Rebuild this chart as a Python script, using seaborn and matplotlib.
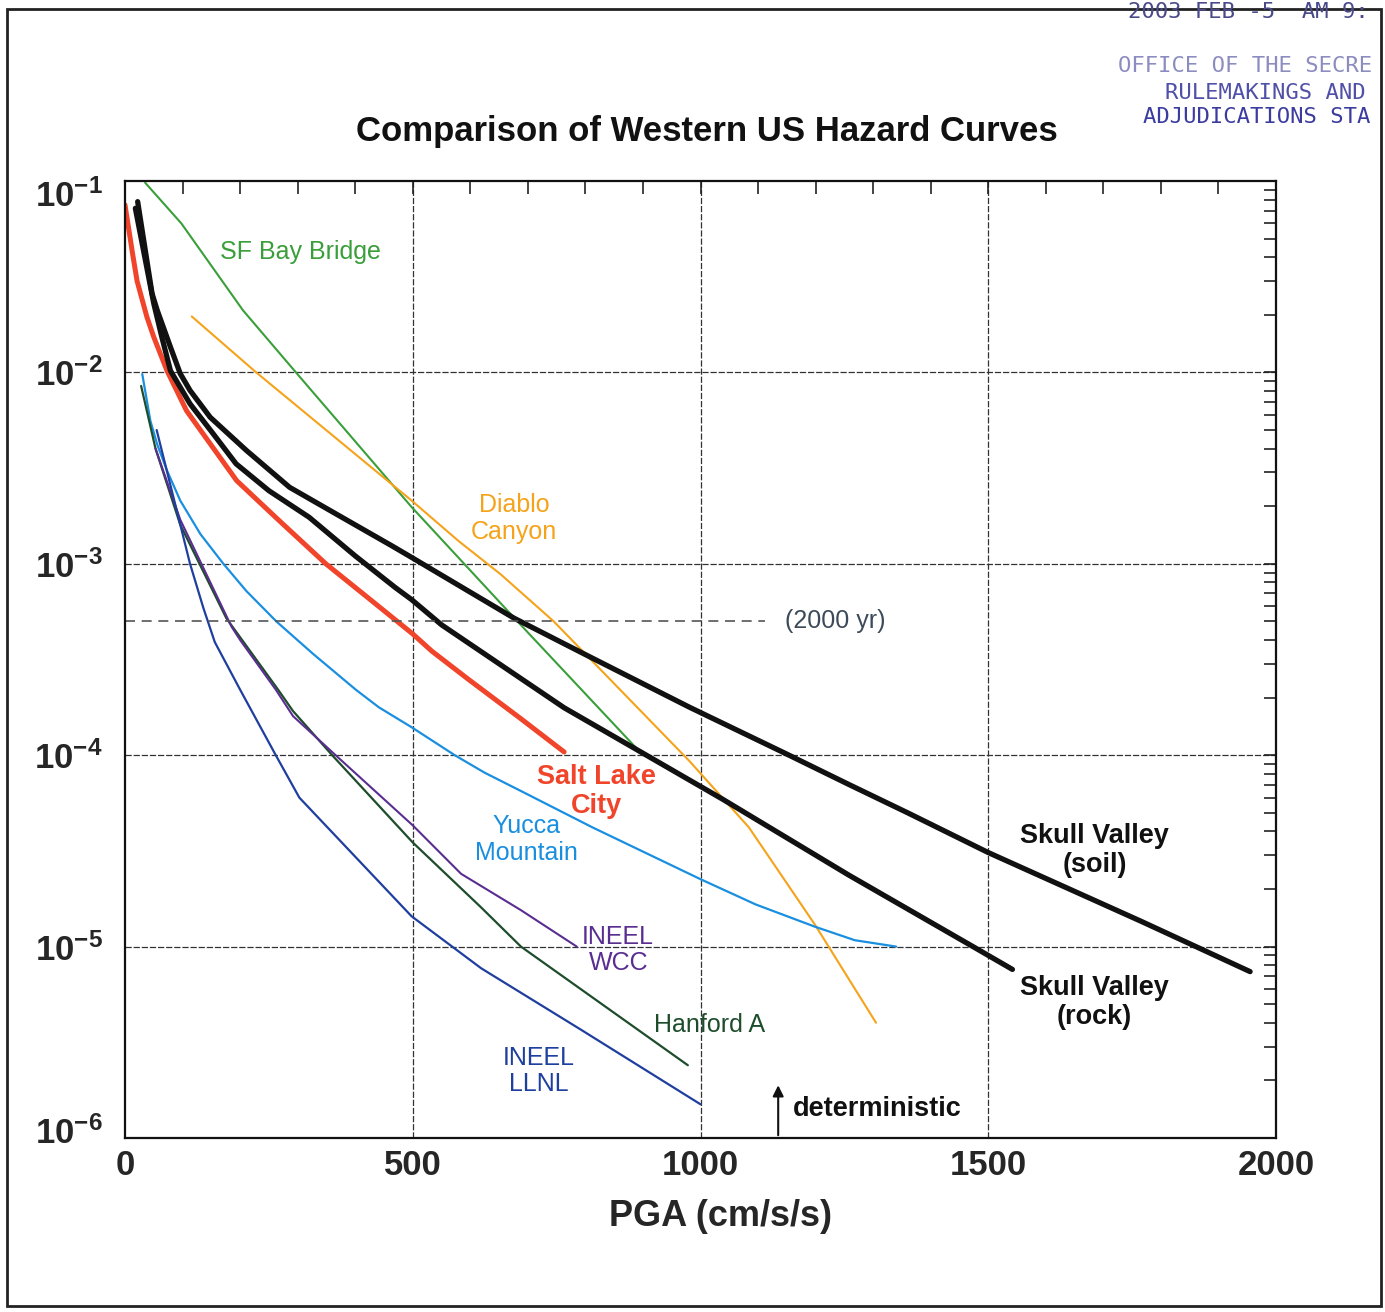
import numpy as np
import pandas as pd
import matplotlib
matplotlib.use("Agg")
import matplotlib.pyplot as plt
import seaborn as sns
from matplotlib.patches import Rectangle
from matplotlib.transforms import ScaledTranslation
from matplotlib.ticker import FixedLocator, LogLocator, NullFormatter

# hazard curves (PGA in cm/s/s, annual exceedance)
sf_x = [35, 98, 205, 297, 498, 682, 900]
sf_y = [0.098, 0.060, 0.0211, 0.0100, 1.98e-3, 5.0e-4, 1.0e-4]

diablo_x = [116, 228, 498, 579, 653, 745, 981, 1084, 1199, 1305]
diablo_y = [0.0196, 0.0100, 2.14e-3, 1.32e-3, 8.8e-4, 5.0e-4, 9.3e-5, 4.2e-5, 1.3e-5, 4.0e-6]

slc_x = [0, 13, 21, 38, 50, 73, 107, 194, 268, 349, 429, 500, 533, 596, 688, 763]
slc_y = [0.075, 0.042, 0.030, 0.0195, 0.0153, 0.0102, 6.3e-3, 2.72e-3, 1.68e-3, 1.0e-3,
         6.4e-4, 4.3e-4, 3.5e-4, 2.5e-4, 1.55e-4, 1.04e-4]

soil_x = [22, 47, 56, 79, 96, 113, 148, 211, 286, 367, 464, 498, 676, 809, 981,
          1148, 1257, 1360, 1500, 1767, 1955]
soil_y = [0.078, 0.0258, 0.0211, 0.01355, 9.85e-3, 8.05e-3, 5.83e-3, 3.91e-3, 2.51e-3,
          1.82e-3, 1.24e-3, 1.08e-3, 5.2e-4, 3.25e-4, 1.78e-4, 1.02e-4, 7.05e-5, 5.0e-5,
          3.1e-5, 1.35e-5, 7.4e-6]

rock_x = [18, 50, 64, 79, 113, 153, 193, 250, 320, 400, 470, 498, 550, 763, 906,
          1038, 1257, 1476, 1542]
rock_y = [0.072, 0.0229, 0.0153, 0.0102, 6.85e-3, 4.79e-3, 3.33e-3, 2.41e-3, 1.75e-3,
          1.1e-3, 7.5e-4, 6.5e-4, 4.8e-4, 1.77e-4, 1.0e-4, 5.9e-5, 2.37e-5, 9.9e-6, 7.6e-6]

yucca_x = [30, 44, 56, 73, 96, 131, 171, 211, 263, 326, 401, 441, 498, 573, 625,
           688, 812, 1000, 1096, 1199, 1268, 1340]
yucca_y = [9.8e-3, 5.6e-3, 4.2e-3, 3.07e-3, 2.14e-3, 1.43e-3, 1.0e-3, 7.2e-4, 5.0e-4,
           3.4e-4, 2.2e-4, 1.78e-4, 1.4e-4, 1.0e-4, 8.1e-5, 6.5e-5, 4.2e-5, 2.25e-5,
           1.66e-5, 1.27e-5, 1.08e-5, 1.0e-5]

wcc_x = [53, 96, 185, 200, 262, 292, 366, 500, 584, 688, 785]
wcc_y = [4.0e-3, 1.7e-3, 4.7e-4, 4.0e-4, 2.2e-4, 1.6e-4, 1.0e-4, 4.3e-5, 2.4e-5, 1.55e-5, 1.0e-5]

hanford_x = [28, 53, 96, 176, 266, 292, 360, 500, 619, 688, 978]
hanford_y = [8.5e-3, 4.0e-3, 1.6e-3, 5.2e-4, 2.2e-4, 1.7e-4, 1.0e-4, 3.5e-5, 1.6e-5, 1.0e-5, 2.4e-6]

llnl_x = [55, 113, 136, 156, 200, 262, 303, 498, 619, 791, 1000]
llnl_y = [5.0e-3, 1.0e-3, 5.9e-4, 3.9e-4, 2.2e-4, 1.0e-4, 6.0e-5, 1.44e-5, 7.7e-6, 3.7e-6, 1.5e-6]

# 2000 yr return period line and the deterministic marker
rp_x = [0, 1112]
rp_y = [5.0e-4, 5.0e-4]
det_pga = 1135

x_ticks = [0, 500, 1000, 1500, 2000]
y_ticks = [1e-6, 1e-5, 1e-4, 1e-3, 1e-2, 1e-1]
y_tick_labels = [r"$\mathbf{10^{-6}}$", r"$\mathbf{10^{-5}}$", r"$\mathbf{10^{-4}}$",
                 r"$\mathbf{10^{-3}}$", r"$\mathbf{10^{-2}}$", r"$\mathbf{10^{-1}}$"]

sns.set_style("white")
plt.rcParams["font.family"] = ["Liberation Sans", "DejaVu Sans"]
plt.rcParams["mathtext.fontset"] = "custom"
plt.rcParams["mathtext.rm"] = "Liberation Sans"
plt.rcParams["mathtext.bf"] = "Liberation Sans:bold"

fig = plt.figure(figsize=(13.85, 13.12), dpi=100)
ax = fig.add_axes([125 / 1385, 1 - 1138 / 1312, 1151 / 1385, 957 / 1312])

curves = [
    (sf_x, sf_y, "#3a9e3a", 1.5),
    (diablo_x, diablo_y, "#f5a31a", 1.5),
    (yucca_x, yucca_y, "#1a8fe0", 1.6),
    (hanford_x, hanford_y, "#1e4d2b", 1.6),
    (wcc_x, wcc_y, "#5a2d91", 1.5),
    (llnl_x, llnl_y, "#1f3f9f", 1.6),
    (slc_x, slc_y, "#f0452a", 3.6),
    (rock_x, rock_y, "#111111", 3.8),
    (soil_x, soil_y, "#111111", 3.8),
]
for xs, ys, col, lw in curves:
    df = pd.DataFrame({"pga": xs, "p": ys})
    sns.lineplot(data=df, x="pga", y="p", ax=ax, color=col, lw=lw, sort=True,
                 solid_joinstyle="round")

sns.lineplot(x=rp_x, y=rp_y, ax=ax, color="#555555", lw=1.2, linestyle=(0, (6, 4)))

ax.set_yscale("log")
ax.set_xlim(0, 2000)
ax.set_ylim(1e-6, 1e-1)

# grid lines only at the major values
for xv in x_ticks[1:-1]:
    ax.axvline(xv, color="#333333", lw=0.9, linestyle=(0, (5, 1.5)), zorder=0)
for yv in y_ticks[1:-1]:
    ax.axhline(yv, color="#333333", lw=0.9, linestyle=(0, (5, 1.5)), zorder=0)

ax.xaxis.set_major_locator(FixedLocator(x_ticks))
ax.xaxis.set_minor_locator(FixedLocator(np.arange(0, 2001, 100)))
ax.set_xticklabels([str(v) for v in x_ticks], fontsize=25, fontweight="bold")
ax.yaxis.set_major_locator(FixedLocator(y_ticks))
ax.yaxis.set_minor_locator(LogLocator(base=10, subs=np.arange(2, 10)))
ax.yaxis.set_minor_formatter(NullFormatter())
ax.set_yticklabels(y_tick_labels, fontsize=25)
ax.tick_params(which="both", direction="in", top=True, right=True, length=9, width=1.2, color="#222222")
ax.tick_params(axis="x", which="major", pad=8)
ax.tick_params(axis="y", which="major", pad=16)
for s in ax.spines.values():
    s.set_linewidth(1.6)
    s.set_color("#111111")

# end labels sit inside the axis range like on the original
ylabs = ax.get_yticklabels()
ylabs[-1].set_transform(ylabs[-1].get_transform() + ScaledTranslation(0, -12 / 100, fig.dpi_scale_trans))
ylabs[0].set_transform(ylabs[0].get_transform() + ScaledTranslation(0, 8 / 100, fig.dpi_scale_trans))

ax.set_xlabel("PGA (cm/s/s)", fontsize=26, fontweight="bold")
ax.xaxis.set_label_coords(0.517, -0.064)
ax.set_ylabel("")

# curve labels
lab = dict(ha="center", va="center", linespacing=1.15)
ax.text(304, 0.0425, "SF Bay Bridge", color="#3a9e3a", fontsize=18, **lab)
ax.text(676, 1.72e-3, "Diablo\nCanyon", color="#f5a31a", fontsize=18, **lab)
ax.text(1234, 5.0e-4, "(2000 yr)", color="#3c4a5a", fontsize=18, **lab)
ax.text(820, 6.5e-5, "Salt Lake\nCity", color="#f0452a", fontsize=19.5, fontweight="bold", **lab)
ax.text(697, 3.63e-5, "Yucca\nMountain", color="#1a8fe0", fontsize=18, **lab)
ax.text(857, 9.6e-6, "INEEL\nWCC", color="#5a2d91", fontsize=18, **lab)
ax.text(1015, 3.9e-6, "Hanford A", color="#1e4d2b", fontsize=18, **lab)
ax.text(719, 2.24e-6, "INEEL\nLLNL", color="#1f3f9f", fontsize=18, **lab)
ax.text(1685, 3.18e-5, "Skull Valley\n(soil)", color="#111111", fontsize=19.5, fontweight="bold", **lab)
ax.text(1684, 5.1e-6, "Skull Valley\n(rock)", color="#111111", fontsize=19.5, fontweight="bold", **lab)
ax.text(det_pga + 25, 1.42e-6, "deterministic", color="#111111", fontsize=19.5,
        fontweight="bold", ha="left", va="center")
ax.annotate("", xy=(det_pga, 1.95e-6), xytext=(det_pga, 1.0e-6),
            arrowprops=dict(arrowstyle="-|>", color="#111111", lw=1.5, mutation_scale=16))

fig.text(707 / 1385, 1 - 132 / 1312, "Comparison of Western US Hazard Curves",
         ha="center", va="center", fontsize=25, fontweight="bold", color="#111111")

# page frame and receipt stamp of the scanned document
fig.patches.append(Rectangle((7 / 1385, 1 - 1306 / 1312), 1374 / 1385, 1297 / 1312,
                             transform=fig.transFigure, fill=False, lw=2, edgecolor="#222222"))
stamp = dict(family="DejaVu Sans Mono", fontsize=16, ha="left", va="center")
fig.text(1128 / 1385, 1 - 12 / 1312, "2003 FEB -5  AM 9:", color="#4a4a8a", **stamp)
fig.text(1118 / 1385, 1 - 66 / 1312, "OFFICE OF THE SECRE", color="#8c8cc0", **stamp)
fig.text(1165 / 1385, 1 - 93 / 1312, "RULEMAKINGS AND", color="#5050a8", **stamp)
fig.text(1143 / 1385, 1 - 117 / 1312, "ADJUDICATIONS STA", color="#3c3ca0", **stamp)

fig.savefig("out.png", dpi=100)
